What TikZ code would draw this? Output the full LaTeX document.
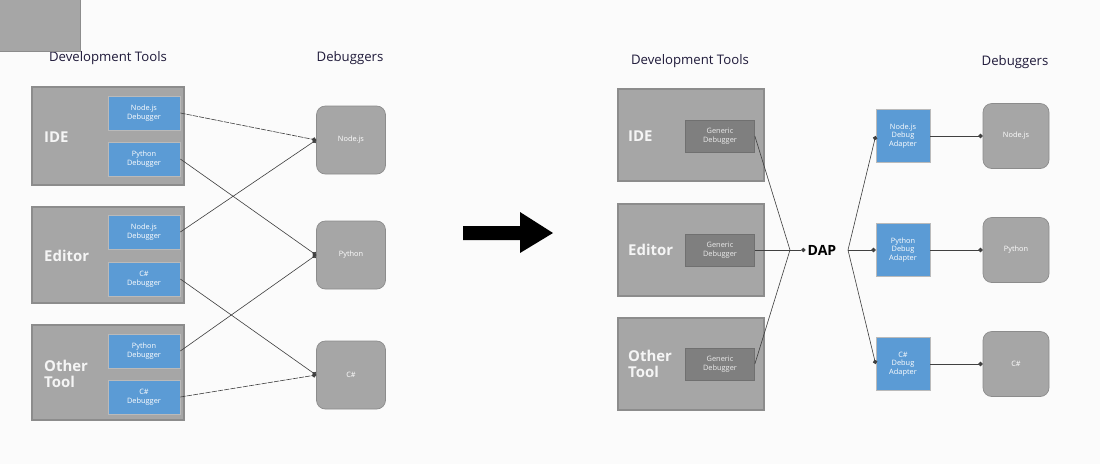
\documentclass[tikz,border=0pt]{standalone}
\usepackage{fontspec}
\setmainfont{Open Sans}
\usetikzlibrary{arrows.meta}
\definecolor{toolgray}{HTML}{A6A6A6}
\definecolor{edgegray}{HTML}{8C8C8C}
\definecolor{dbgblue}{HTML}{5B9BD5}
\definecolor{genericgray}{HTML}{7F7F7F}
\definecolor{titleink}{HTML}{1F1A3A}
\tikzset{
  tool/.style={draw=edgegray, fill=toolgray, line width=0.6pt, inner sep=0pt},
  plugin/.style={draw=edgegray!60, fill=dbgblue, text=white, align=center, inner sep=0pt, font=\fontsize{4.2}{5}\selectfont},
  generic/.style={draw=edgegray!80!black, fill=genericgray, text=white!85!gray, align=center, inner sep=0pt, font=\fontsize{4.2}{5}\selectfont},
  engine/.style={draw=edgegray, fill=toolgray, rounded corners=5pt, text=white, align=center, inner sep=0pt, font=\fontsize{4.2}{5}\selectfont},
  title/.style={text=titleink, font=\fontsize{7.5}{9}\selectfont},
  toolname/.style={text=white!92!gray, anchor=west, align=left, font=\bfseries\fontsize{8.5}{11}\selectfont},
  link/.style={draw=black!75, line width=0.35pt, -{Circle[length=2.5pt]}},
  dashlink/.style={link, dash pattern=on 3pt off 0.6pt}
}
\begin{document}
\begin{tikzpicture}[x=0.02cm, y=-0.02cm]
  \fill[white!97!gray] (0,0) rectangle (1100,464);
  \useasboundingbox (0,0) rectangle (1100,464);

  % before: every tool ships its own debuggers
  \node[title] (tleft)  at (108,58) {Development Tools};
  \node[title] (dleft)  at (350,58) {Debuggers};

  \node[tool, minimum width=152\pgflinewidth, minimum height=98\pgflinewidth] at (0,0) {};
  \path[tool] (32,87) rectangle (184,185);
  \path[tool] (32,207) rectangle (184,303);
  \path[tool] (32,325) rectangle (184,420);
  \node[toolname] (ide)   at (38,137) {IDE};
  \node[toolname] (edit)  at (38,256) {Editor};
  \node[toolname] (other) at (38,374) {Other\\[-2pt]Tool};

  \node[plugin, minimum width=72*0.02cm, minimum height=34*0.02cm] (ideNode)  at (144,113) {Node.js\\Debugger};
  \node[plugin, minimum width=72*0.02cm, minimum height=34*0.02cm] (idePy)    at (144,159) {Python\\Debugger};
  \node[plugin, minimum width=72*0.02cm, minimum height=34*0.02cm] (editNode) at (144,232) {Node.js\\Debugger};
  \node[plugin, minimum width=72*0.02cm, minimum height=34*0.02cm] (editCs)   at (144,279) {C\#\\Debugger};
  \node[plugin, minimum width=72*0.02cm, minimum height=34*0.02cm] (otherPy)  at (144,351) {Python\\Debugger};
  \node[plugin, minimum width=72*0.02cm, minimum height=34*0.02cm] (otherCs)  at (144,397) {C\#\\Debugger};

  \node[engine, minimum width=69*0.02cm, minimum height=68*0.02cm] (jsL) at (351,140) {Node.js};
  \node[engine, minimum width=69*0.02cm, minimum height=68*0.02cm] (pyL) at (351,255) {Python};
  \node[engine, minimum width=69*0.02cm, minimum height=68*0.02cm] (csL) at (351,375) {C\#};

  \draw[dashlink] (ideNode.east) -- (jsL.west);
  \draw[link] (idePy.east) -- (pyL.west);
  \draw[link] (editNode.east) -- (jsL.west);
  \draw[link] (editCs.east) -- (csL.west);
  \draw[link] (otherPy.east) -- (pyL.west);
  \draw[dashlink] (otherCs.east) -- (csL.west);

  % big arrow
  \fill[black] (463,226) -- (520,226) -- (520,212) -- (553,233) -- (520,253) -- (520,240) -- (463,240) -- cycle;

  % after: one generic debugger speaking DAP
  \node[title] (tright) at (690,61) {Development Tools};
  \node[title] (dright) at (1015,62) {Debuggers};

  \path[tool] (618,89) rectangle (764,181);
  \path[tool] (618,204) rectangle (764,296);
  \path[tool] (618,318) rectangle (764,410);
  \node[toolname] (ideR)   at (622,136) {IDE};
  \node[toolname] (editR)  at (622,250) {Editor};
  \node[toolname] (otherR) at (622,364) {Other\\[-2pt]Tool};

  \node[generic, minimum width=69*0.02cm, minimum height=32*0.02cm] (genIde)   at (720,136) {Generic\\Debugger};
  \node[generic, minimum width=69*0.02cm, minimum height=32*0.02cm] (genEdit)  at (720,250) {Generic\\Debugger};
  \node[generic, minimum width=69*0.02cm, minimum height=32*0.02cm] (genOther) at (720,364) {Generic\\Debugger};

  \coordinate (join) at (790,250);
  \node[font=\bfseries\fontsize{8}{10}\selectfont, inner sep=1pt] (dap) at (822,250) {DAP};
  \coordinate (fork) at (848,250);

  \node[plugin, minimum width=54*0.02cm, minimum height=53*0.02cm] (adNode) at (903,136) {Node.js\\Debug\\Adapter};
  \node[plugin, minimum width=54*0.02cm, minimum height=53*0.02cm] (adPy)   at (903,250) {Python\\Debug\\Adapter};
  \node[plugin, minimum width=54*0.02cm, minimum height=53*0.02cm] (adCs)   at (903,364) {C\#\\Debug\\Adapter};

  \node[engine, minimum width=66*0.02cm, minimum height=65*0.02cm] (jsR) at (1016,136) {Node.js};
  \node[engine, minimum width=66*0.02cm, minimum height=65*0.02cm] (pyR) at (1016,250) {Python};
  \node[engine, minimum width=66*0.02cm, minimum height=65*0.02cm] (csR) at (1016,364) {C\#};

  \draw[draw=black!75, line width=0.35pt] (genIde.east) -- (join);
  \draw[draw=black!75, line width=0.35pt] (genEdit.east) -- (join);
  \draw[draw=black!75, line width=0.35pt] (genOther.east) -- (join);
  \draw[link] (join) -- (dap.west);
  \draw[link] (fork) -- (adNode.west);
  \draw[link] (fork) -- (adPy.west);
  \draw[link] (fork) -- (adCs.west);
  \draw[link] (adNode.east) -- (jsR.west);
  \draw[link] (adPy.east) -- (pyR.west);
  \draw[link] (adCs.east) -- (csR.west);
\end{tikzpicture}
\end{document}
